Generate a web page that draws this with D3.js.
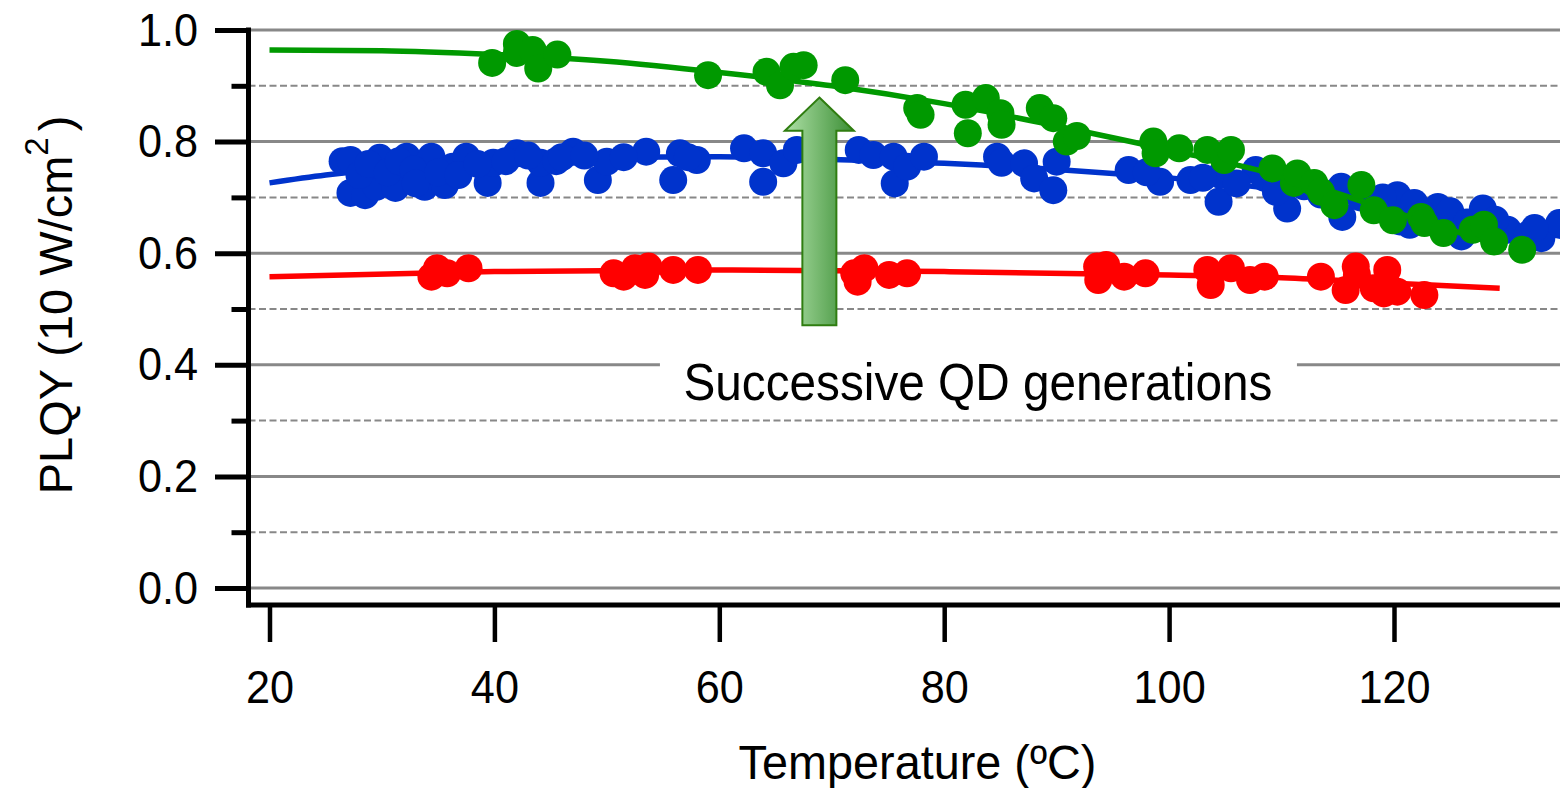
<!DOCTYPE html>
<html><head><meta charset="utf-8">
<script src="https://cdn.jsdelivr.net/npm/d3@7"></script>
<style>
body{margin:0;background:#fff}
svg{display:block}
text{font-family:"Liberation Sans",Arial,Helvetica,sans-serif;fill:#000}
</style>
</head><body>
<svg id="chart" width="1560" height="788"></svg>
<script>
// ---------- data ----------
const xTicks = [20, 40, 60, 80, 100, 120];
const yMajor = [0.0, 0.2, 0.4, 0.6, 0.8, 1.0];
const yMinor = [0.1, 0.3, 0.5, 0.7, 0.9];

const redT = [34.4,34.9,35.8,37.7,50.6,51.5,52.5,53.7,53.4,55.9,58.1,72.0,72.3,72.9,75.1,76.7,93.6,93.7,94.4,96.0,97.9,103.4,103.7,105.5,107.2,108.5,113.5,115.7,116.6,116.7,118.2,119.4,119.1,120.3,122.7];
const redY = [0.558,0.573,0.564,0.573,0.564,0.558,0.573,0.576,0.561,0.570,0.570,0.564,0.549,0.573,0.561,0.564,0.576,0.552,0.579,0.558,0.564,0.570,0.543,0.573,0.552,0.558,0.558,0.534,0.576,0.561,0.537,0.570,0.528,0.531,0.525];

const blueT = [26.5,27.2,27.2,28.5,29.8,29.5,31.2,32.2,33.8,34.4,35.6,36.3,37.5,39.4,39.9,42.0,44.1,44.1,47.0,49.2,50.0,53.5,55.9,56.5,58.0,62.2,63.9,63.9,65.7,66.9,72.4,73.7,75.5,75.6,76.7,78.2,84.7,85.1,87.1,88.0,89.7,90.0,96.4,99.2,101.9,104.4,104.6,107.7,110.5,115.3,115.4,120.3,120.5,121.4,123.9,126.0,127.9,130.1,131.9,133.1,134.7,
  28.0,28.8,30.5,31.5,32.8,33.0,35.0,36.8,38.5,41.0,43.0,45.5,46.0,48.0,51.5,57.2,
  98.0,103.0,106.0,108.5,109.5,112.0,113.5,117.0,118.5,119.0,121.8,122.5,125.0,126.5,129.0,132.5];
const blueY = [0.765,0.767,0.708,0.704,0.771,0.719,0.717,0.773,0.719,0.773,0.722,0.755,0.773,0.726,0.762,0.779,0.726,0.762,0.782,0.731,0.764,0.782,0.731,0.779,0.767,0.788,0.728,0.779,0.761,0.785,0.785,0.776,0.773,0.725,0.755,0.773,0.773,0.762,0.761,0.734,0.713,0.764,0.749,0.728,0.731,0.692,0.740,0.749,0.680,0.719,0.665,0.704,0.657,0.651,0.683,0.630,0.680,0.642,0.633,0.627,0.654,
  0.740,0.760,0.745,0.765,0.750,0.725,0.745,0.740,0.760,0.765,0.775,0.765,0.772,0.775,0.772,0.772,
  0.745,0.735,0.725,0.735,0.710,0.720,0.705,0.700,0.690,0.700,0.690,0.670,0.675,0.655,0.660,0.645];

const greenT = [39.8,42.0,42.0,43.4,43.9,45.6,59.0,64.2,65.4,66.6,67.5,71.2,77.6,77.9,81.9,82.1,83.7,85.0,85.1,88.5,89.7,90.9,91.8,98.6,98.8,100.9,103.4,104.9,105.5,109.2,111.1,111.4,112.9,113.5,114.7,117.1,118.2,119.9,122.4,122.7,124.4,127.0,128.0,128.9,131.4];
const greenY = [0.941,0.975,0.959,0.964,0.931,0.956,0.919,0.925,0.901,0.934,0.937,0.910,0.860,0.848,0.866,0.815,0.878,0.851,0.830,0.860,0.842,0.800,0.810,0.800,0.779,0.788,0.785,0.767,0.785,0.752,0.726,0.743,0.726,0.710,0.686,0.722,0.677,0.659,0.665,0.654,0.636,0.642,0.651,0.621,0.606];

// fitted trend lines
const redFitT = [20,40,60,80,100,110,120,129.4];
const redFitY = [0.558,0.567,0.570,0.567,0.561,0.556,0.546,0.537];
const blueFitT = [20,25,30,40,50,60,70,80,90,95,100,110,120,130,136];
const blueFitY = [0.726,0.740,0.751,0.765,0.772,0.773,0.768,0.761,0.750,0.743,0.735,0.714,0.686,0.650,0.625];
const greenFitT = [20,30,40,50,60,70,80,90,100,110,120,130];
const greenFitY = [0.964,0.963,0.956,0.944,0.924,0.900,0.868,0.828,0.785,0.738,0.674,0.610];

// annotation (data coords)
const arrowT = 68.9, arrowTipY = 0.879, arrowHeadY = 0.8195, arrowBaseY = 0.471;
const noteText = "Successive QD generations";
const noteT = 83.0, noteY = 0.337;

const colors = {red:"#ff0000", blue:"#0033cc", green:"#009900", grid:"#888888"};

// ---------- scales ----------
const svg = d3.select("#chart");
const x = d3.scaleLinear().domain([20,120]).range([269.5,1394]);
const y = d3.scaleLinear().domain([0,1]).range([588,30]);
const axisX = 248.5, axisY = 605, rightEdge = 1560;

function narrow(sel, k){
  sel.each(function(){
    const w = this.getComputedTextLength();
    d3.select(this).attr("textLength", w*k).attr("lengthAdjust","spacingAndGlyphs");
  });
}

// ---------- grid ----------
const grid = svg.append("g");
grid.selectAll("line.maj").data(yMajor).join("line")
  .attr("x1", axisX).attr("x2", rightEdge)
  .attr("y1", d=>y(d)).attr("y2", d=>y(d))
  .attr("stroke", colors.grid).attr("stroke-width", 3);
grid.selectAll("line.min").data(yMinor).join("line")
  .attr("x1", axisX).attr("x2", rightEdge)
  .attr("y1", d=>y(d)).attr("y2", d=>y(d))
  .attr("stroke", colors.grid).attr("stroke-width", 2)
  .attr("stroke-dasharray","7,3.5");

// ---------- annotation text with white background ----------
const noteG = svg.append("g");
const noteBg = noteG.append("rect").attr("fill","#fff");
const note = noteG.append("text")
  .attr("x", x(noteT)).attr("y", y(noteY))
  .attr("text-anchor","middle").attr("font-size",52)
  .text(noteText);
note.attr("textLength", 589).attr("lengthAdjust","spacingAndGlyphs");
noteBg.attr("x", x(noteT)-318).attr("width", 637)
  .attr("y", y(noteY)-50).attr("height", 46);

// ---------- series ----------
const clip = svg.append("clipPath").attr("id","plotclip").append("rect")
  .attr("x", axisX).attr("y", 0).attr("width", rightEdge-axisX).attr("height", axisY);
const plot = svg.append("g").attr("clip-path","url(#plotclip)");

const line = d3.line().x(d=>x(d[0])).y(d=>y(d[1])).curve(d3.curveMonotoneX);
function series(T, Y, fitT, fitY, color){
  const g = plot.append("g");
  g.append("path").datum(fitT.map((t,i)=>[t,fitY[i]]))
    .attr("d", line).attr("fill","none").attr("stroke", color).attr("stroke-width",5.5);
  g.selectAll("circle").data(T.map((t,i)=>[t,Y[i]])).join("circle")
    .attr("cx", d=>x(d[0])).attr("cy", d=>y(d[1])).attr("r",14).attr("fill", color);
}
series(redT, redY, redFitT, redFitY, colors.red);
series(blueT, blueY, blueFitT, blueFitY, colors.blue);
series(greenT, greenY, greenFitT, greenFitY, colors.green);

// ---------- arrow ----------
const defs = svg.append("defs");
const grad = defs.append("linearGradient").attr("id","arrowGrad")
  .attr("x1","0%").attr("x2","100%").attr("y1","0%").attr("y2","0%");
grad.append("stop").attr("offset","0%").attr("stop-color","#aee0a6");
grad.append("stop").attr("offset","100%").attr("stop-color","#3b8e35");
const ax = x(arrowT), hw = 34.5, sw = 17;
const arrowPts = [
  [ax, y(arrowTipY)], [ax+hw, y(arrowHeadY)], [ax+sw, y(arrowHeadY)],
  [ax+sw, y(arrowBaseY)], [ax-sw, y(arrowBaseY)], [ax-sw, y(arrowHeadY)],
  [ax-hw, y(arrowHeadY)]
];
svg.append("path").attr("d", "M"+arrowPts.map(p=>p.join(",")).join("L")+"Z")
  .attr("fill","url(#arrowGrad)").attr("stroke","#2f7d10").attr("stroke-width",2);

// ---------- axes ----------
const yAx = svg.append("g").attr("transform",`translate(${axisX},0)`)
  .call(d3.axisLeft(y).tickValues(yMajor).tickSize(33.5).tickPadding(17).tickFormat(d3.format(".1f")));
yAx.select(".domain").remove();
yAx.selectAll(".tick line").attr("stroke","#000").attr("stroke-width",5);
yAx.selectAll(".tick text").attr("font-size",47).attr("font-family",null).attr("dy","0.32em");
narrow(yAx.selectAll(".tick text"), 0.92);

const yAxMin = svg.append("g").attr("transform",`translate(${axisX},0)`)
  .call(d3.axisLeft(y).tickValues(yMinor).tickSize(17).tickFormat(""));
yAxMin.select(".domain").remove();
yAxMin.selectAll(".tick line").attr("stroke","#000").attr("stroke-width",5);

const xAx = svg.append("g").attr("transform",`translate(0,${axisY})`)
  .call(d3.axisBottom(x).tickValues(xTicks).tickSize(37).tickPadding(27.6).tickFormat(d3.format("d")));
xAx.select(".domain").remove();
xAx.selectAll(".tick line").attr("stroke","#000").attr("stroke-width",4.5);
xAx.selectAll(".tick text").attr("font-size",47).attr("font-family",null);
narrow(xAx.selectAll(".tick text"), 0.92);

// axis lines
svg.append("line").attr("x1",axisX).attr("x2",axisX).attr("y1",27.5).attr("y2",axisY+2.5)
  .attr("stroke","#000").attr("stroke-width",5);
svg.append("line").attr("x1",axisX-2.5).attr("x2",rightEdge).attr("y1",axisY).attr("y2",axisY)
  .attr("stroke","#000").attr("stroke-width",5);

// ---------- axis titles ----------
const xt = svg.append("text").attr("x", 917.5).attr("y", 779)
  .attr("text-anchor","middle").attr("font-size",48).text("Temperature (ºC)");
narrow(xt, 0.975);

const yt = svg.append("text").attr("transform","translate(72,305) rotate(-90)")
  .attr("text-anchor","middle").attr("font-size",47);
yt.append("tspan").text("PLQY (10 W/cm");
yt.append("tspan").attr("font-size",33).attr("dy",-24).text("2");
yt.append("tspan").attr("dy",24).attr("dx",6).text(")");
</script>
</body></html>
